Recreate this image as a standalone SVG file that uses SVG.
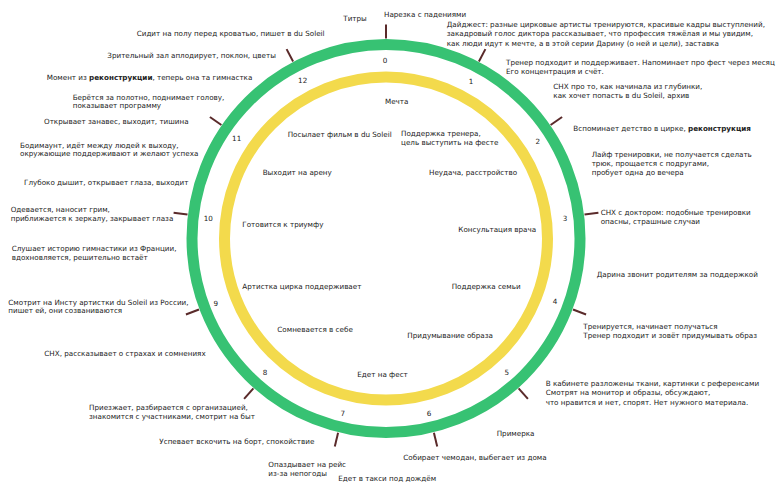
<svg xmlns="http://www.w3.org/2000/svg" width="776" height="490" viewBox="0 0 776 490">
<style>
text{font-family:"DejaVu Sans",Verdana,sans-serif;font-size:7.2px;fill:#222}
.num{text-anchor:middle}
.b{font-weight:bold}
.tick{stroke:#5a2a2a;stroke-width:2}
</style>
<rect width="776" height="490" fill="#fff"/>
<g id="rings">
<circle cx="386" cy="238.6" r="194" fill="none" stroke="#37c273" stroke-width="11"/>
<circle cx="386" cy="238.6" r="161.5" fill="none" stroke="#f3da4c" stroke-width="11"/>
</g>
<g id="connectors">
<line class="tick" x1="386" y1="38.6" x2="386" y2="24.6"/>
<line class="tick" x1="478.9" y1="61.5" x2="485.4" y2="49.1"/>
<line class="tick" x1="550.6" y1="125" x2="562.1" y2="117"/>
<line class="tick" x1="584.5" y1="214.5" x2="598.4" y2="212.8"/>
<line class="tick" x1="573" y1="309.5" x2="586.1" y2="314.5"/>
<line class="tick" x1="518.6" y1="388.3" x2="527.9" y2="398.8"/>
<line class="tick" x1="433.9" y1="432.8" x2="437.2" y2="446.4"/>
<line class="tick" x1="338.1" y1="432.8" x2="334.8" y2="446.4"/>
<line class="tick" x1="253.4" y1="388.3" x2="244.1" y2="398.8"/>
<line class="tick" x1="199" y1="309.5" x2="185.9" y2="314.5"/>
<line class="tick" x1="187.5" y1="214.5" x2="173.6" y2="212.8"/>
<line class="tick" x1="221.4" y1="125" x2="209.9" y2="117"/>
<line class="tick" x1="293.1" y1="61.5" x2="286.6" y2="49.1"/>
</g>
<g id="numbers">
<text class="num" x="385" y="63">0</text>
<text class="num" x="471" y="84">1</text>
<text class="num" x="537.7" y="144">2</text>
<text class="num" x="565" y="221">3</text>
<text class="num" x="555" y="304">4</text>
<text class="num" x="506.7" y="374.5">5</text>
<text class="num" x="429" y="416">6</text>
<text class="num" x="342.7" y="416">7</text>
<text class="num" x="265" y="375">8</text>
<text class="num" x="215.7" y="306">9</text>
<text class="num" x="208.3" y="221">10</text>
<text class="num" x="236.7" y="141">11</text>
<text class="num" x="302.7" y="83">12</text>
</g>
<g id="inner">
<text x="385" y="104">Мечта</text>
<text x="287.7" y="137">Посылает фильм в du Soleil</text>
<text x="401" y="135.5">Поддержка тренера,<tspan x="401" y="144.5">цель выступить на фесте</tspan></text>
<text x="262.7" y="175">Выходит на арену</text>
<text x="429" y="175">Неудача, расстройство</text>
<text x="242.3" y="227">Готовится к триумфу</text>
<text x="458.3" y="232">Консультация врача</text>
<text x="242.3" y="289">Артистка цирка поддерживает</text>
<text x="451.7" y="289">Поддержка семьи</text>
<text x="277.3" y="332">Сомневается в себе</text>
<text x="407.3" y="338">Придумывание образа</text>
<text x="357.3" y="377">Едет на фест</text>
</g>
<g id="outer">
<text x="343.3" y="20.5">Титры</text>
<text x="384" y="17">Нарезка с падениями</text>
<text x="446.7" y="27">Дайджест: разные цирковые артисты тренируются, красивые кадры выступлений,<tspan x="446.7" y="36">закадровый голос диктора рассказывает, что профессия тяжёлая и мы увидим,</tspan><tspan x="446.7" y="45.5">как люди идут к мечте, а в этой серии Дарину (о ней и цели), заставка</tspan></text>
<text x="506" y="65">Тренер подходит и поддерживает. Напоминает про фест через месяц<tspan x="506" y="74">Его концентрация и счёт.</tspan></text>
<text x="553.3" y="89">СНХ про то, как начинала из глубинки,<tspan x="553.3" y="98">как хочет попасть в du Soleil, архив</tspan></text>
<text x="573.3" y="130.5">Вспоминает детство в цирке, <tspan class="b">реконструкция</tspan></text>
<text x="591.7" y="157">Лайф тренировки, не получается сделать<tspan x="591.7" y="165.5">трюк, прощается с подругами,</tspan><tspan x="591.7" y="174.5">пробует одна до вечера</tspan></text>
<text x="600.7" y="215">СНХ с доктором: подобные тренировки<tspan x="600.7" y="224">опасны, страшные случаи</tspan></text>
<text x="596.7" y="277">Дарина звонит родителям за поддержкой</text>
<text x="583.3" y="328.5">Тренируется, начинает получаться<tspan x="583.3" y="338">Тренер подходит и зовёт придумывать образ</tspan></text>
<text x="545.7" y="386">В кабинете разложены ткани, картинки с референсами<tspan x="545.7" y="395">Смотрят на монитор и образы, обсуждают,</tspan><tspan x="545.7" y="404.5">что нравится и нет, спорят. Нет нужного материала.</tspan></text>
<text x="496.7" y="436">Примерка</text>
<text x="403.3" y="460">Собирает чемодан, выбегает из дома</text>
<text x="338.3" y="481">Едет в такси под дождём</text>
<text x="268.3" y="467">Опаздывает на рейс<tspan x="268.3" y="476">из-за непогоды</tspan></text>
<text x="159.3" y="444">Успевает вскочить на борт, спокойствие</text>
<text x="89" y="409.5">Приезжает, разбирается с организацией,<tspan x="89" y="419">знакомится с участниками, смотрит на быт</tspan></text>
<text x="44.3" y="355.5">СНХ, рассказывает о страхах и сомнениях</text>
<text x="8.3" y="304.5">Смотрит на Инсту артистки du Soleil из России,<tspan x="8.3" y="313">пишет ей, они созваниваются</tspan></text>
<text x="11.7" y="251">Слушает историю гимнастики из Франции,<tspan x="11.7" y="260">вдохновляется, решительно встаёт</tspan></text>
<text x="10.7" y="212">Одевается, наносит грим,<tspan x="10.7" y="221">приближается к зеркалу, закрывает глаза</tspan></text>
<text x="24" y="185">Глубоко дышит, открывает глаза, выходит</text>
<text x="20" y="148">Бодимаунт, идёт между людей к выходу,<tspan x="20" y="156">окружающие поддерживают и желают успеха</tspan></text>
<text x="44" y="123.5">Открывает занавес, выходит, тишина</text>
<text x="72.7" y="99.5">Берётся за полотно, поднимает голову,<tspan x="72.7" y="108">показывает программу</tspan></text>
<text x="46.7" y="80">Момент из <tspan class="b">реконструкции</tspan>, теперь она та гимнастка</text>
<text x="107.3" y="58">Зрительный зал аплодирует, поклон, цветы</text>
<text x="136.7" y="36">Сидит на полу перед кроватью, пишет в du Soleil</text>
</g>
</svg>
